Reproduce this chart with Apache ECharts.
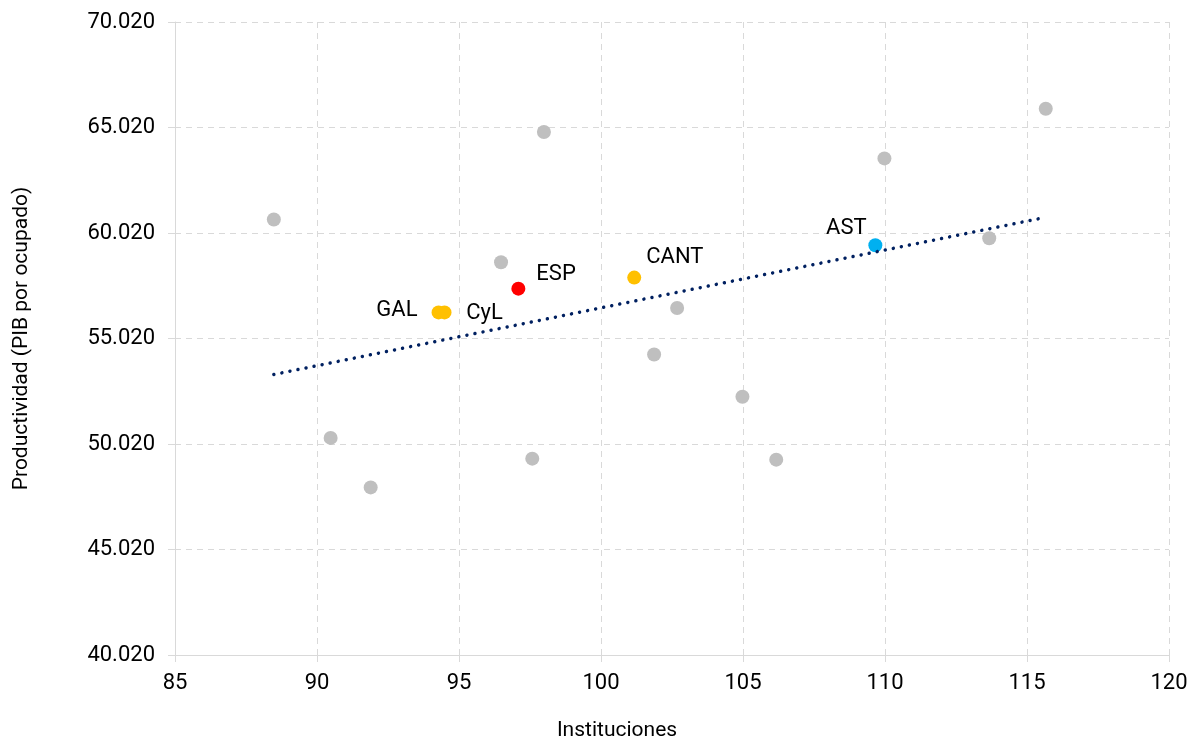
<!DOCTYPE html>
<html>
<head>
<meta charset="utf-8">
<script src="https://cdn.jsdelivr.net/npm/echarts@6/dist/echarts.min.js"></script>
<style>
html,body{margin:0;padding:0;background:#fff;}
#chart{width:1195px;height:740px;}
</style>
</head>
<body>
<div id="chart"></div>
<script>
// ---- Data ----
var otherX = [88.48, 90.48, 91.89, 96.48, 97.58, 97.99, 101.87, 102.68, 104.98, 106.17, 109.98, 113.67, 115.66];
var otherY = [60660, 50309, 47963, 58632, 49326, 64805, 54264, 56462, 52256, 49279, 63556, 59772, 65911];

var espNames = ['ESP'];
var espX = [97.09];
var espY = [57383];

var yellowNames = ['GAL', 'CyL', 'CANT'];
var yellowX = [94.28, 94.49, 101.17];
var yellowY = [56258, 56258, 57906];

var astNames = ['AST'];
var astX = [109.66];
var astY = [59439];

var trendX = [88.48, 115.63];
var trendY = [53314, 60755];

var xTicks = [85, 90, 95, 100, 105, 110, 115, 120];
var yTicks = [40020, 45020, 50020, 55020, 60020, 65020, 70020];

// ---- Presentation ----
var Y_SHIFT = 20; // axis ticks sit at 40.020, 45.020, ... ; shift so ticks are multiples of the interval
var FONT = 'Roboto';
var labelPlacement = {
  GAL:  {position: [-14, 4.8], align: 'right', verticalAlign: 'middle'},
  CyL:  {position: [28.7, 8.3], align: 'left', verticalAlign: 'middle'},
  ESP:  {position: [25, -7], align: 'left', verticalAlign: 'middle'},
  CANT: {position: [19, -13], align: 'left', verticalAlign: 'middle'},
  AST:  {position: [-1.7, -9.7], align: 'right', verticalAlign: 'middle'}
};

function fmt(n) {
  var t = Math.floor(n / 1000), r = Math.round(n % 1000);
  return t + '.' + ('00' + r).slice(-3);
}
function pts(xs, ys, names) {
  return xs.map(function (x, i) {
    var item = {value: [x, ys[i] - Y_SHIFT]};
    if (names) {
      item.name = names[i];
      var p = labelPlacement[names[i]];
      item.label = {show: true, formatter: '{b}', position: p.position, align: p.align, verticalAlign: p.verticalAlign,
        color: '#000', fontSize: 22, fontFamily: FONT};
    }
    return item;
  });
}

var chart = echarts.init(document.getElementById('chart'), null, {renderer: 'canvas'});
var gridColor = '#d9d9d9';
chart.setOption({
  animation: false,
  backgroundColor: '#fff',
  grid: {left: 175, right: 26, top: 22, bottom: 85, containLabel: false, outerBoundsMode: 'none'},
  xAxis: {
    type: 'value',
    min: xTicks[0], max: xTicks[xTicks.length - 1], interval: xTicks[1] - xTicks[0],
    name: 'Instituciones', nameLocation: 'middle', nameGap: 65,
    nameTextStyle: {fontSize: 21, fontFamily: FONT, color: '#000', padding: [0, 110, 0, 0]},
    axisLine: {show: true, lineStyle: {color: gridColor, width: 1}},
    axisTick: {show: true, length: 7, lineStyle: {color: gridColor}},
    axisLabel: {fontSize: 22, fontFamily: FONT, color: '#000', margin: 17},
    splitLine: {show: true, lineStyle: {color: gridColor, type: [6, 5]}}
  },
  yAxis: {
    type: 'value',
    min: yTicks[0] - Y_SHIFT, max: yTicks[yTicks.length - 1] - Y_SHIFT, interval: yTicks[1] - yTicks[0],
    name: 'Productividad (PIB por ocupado)', nameLocation: 'middle', nameGap: 143, nameRotate: 90,
    nameTextStyle: {fontSize: 21, fontFamily: FONT, color: '#000'},
    axisLine: {show: true, lineStyle: {color: gridColor, width: 1}},
    axisTick: {show: true, length: 7, lineStyle: {color: gridColor}},
    axisLabel: {fontSize: 22, fontFamily: FONT, color: '#000', margin: 20,
      formatter: function (v) { return fmt(v + Y_SHIFT); }},
    splitLine: {show: true, lineStyle: {color: gridColor, type: [6, 5]}}
  },
  series: [
    {type: 'scatter', symbolSize: 14, itemStyle: {color: '#bfbfbf', opacity: 1}, data: pts(otherX, otherY), z: 2},
    {type: 'scatter', symbolSize: 14, itemStyle: {color: '#ffc000', opacity: 1}, data: pts(yellowX, yellowY, yellowNames), z: 3},
    {type: 'scatter', symbolSize: 14, itemStyle: {color: '#ff0000', opacity: 1}, data: pts(espX, espY, espNames), z: 3},
    {type: 'scatter', symbolSize: 14, itemStyle: {color: '#00b0f0', opacity: 1}, data: pts(astX, astY, astNames), z: 3},
    {type: 'line', symbol: 'none', silent: true, z: 4,
      lineStyle: {color: '#002060', width: 3.5, type: [0.01, 8.2], cap: 'round'},
      data: pts(trendX, trendY)}
  ]
});
</script>
</body>
</html>
